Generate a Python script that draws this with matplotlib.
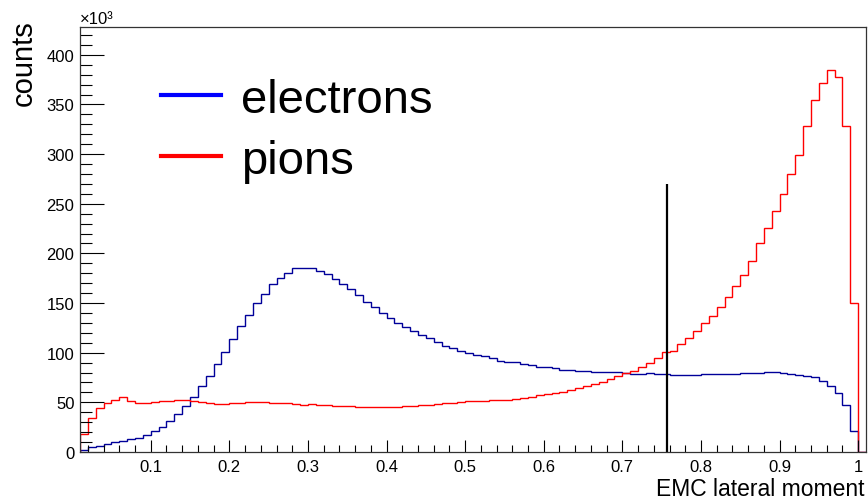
import numpy as np
import matplotlib
matplotlib.use('Agg')
import matplotlib.pyplot as plt
from matplotlib.lines import Line2D
from matplotlib.ticker import MultipleLocator

plt.rcParams['font.family'] = ['Liberation Sans', 'DejaVu Sans']

# bin edges of the histogram: 0.01 .. 1.01 in steps of 0.01
edges = np.round(np.arange(0.01, 1.0101, 0.01), 2)

# counts per bin, in units of 10^3
electrons = [2.0, 4.7, 6.4, 8.0, 9.7, 11.0, 12.7, 14.4, 17.0, 21.0,
             25.5, 31.6, 38.3, 46.7, 55.7, 66.2, 76.9, 88.7, 101.0, 113.5,
             127.0, 138.0, 150.4, 159.2, 169.0, 175.3, 180.4, 185.4, 185.4, 185.4,
             182.7, 179.7, 174.3, 169.5, 164.2, 158.2, 151.4, 145.8, 140.0, 135.0,
             130.0, 126.0, 122.0, 117.9, 114.5, 110.5, 107.1, 104.5, 102.0, 99.7,
             97.7, 96.8, 94.4, 92.0, 91.0, 90.3, 88.3, 87.3, 86.0, 85.3,
             84.3, 82.6, 82.6, 81.6, 81.6, 80.9, 80.3, 80.3, 80.3, 79.6,
             78.9, 78.9, 79.6, 78.6, 78.6, 77.9, 77.9, 77.9, 77.9, 78.6,
             78.6, 78.6, 78.6, 78.6, 79.3, 79.3, 80.0, 80.3, 80.3, 79.6,
             78.6, 77.9, 76.9, 75.2, 71.2, 66.8, 59.4, 47.7, 21.5, 0.0]

pions = [18.1, 34.3, 44.0, 49.0, 52.7, 55.1, 51.0, 49.0, 49.0, 50.4,
         51.0, 51.7, 52.4, 52.4, 51.7, 50.4, 49.4, 48.7, 48.7, 49.7,
         49.7, 50.7, 50.7, 50.7, 49.7, 49.7, 49.7, 48.7, 47.7, 48.7,
         47.7, 47.7, 46.7, 46.7, 46.5, 45.7, 45.7, 45.7, 45.7, 45.7,
         45.7, 46.2, 46.7, 47.2, 47.7, 48.2, 49.0, 49.7, 50.5, 51.0,
         51.2, 51.5, 51.9, 52.2, 52.4, 53.7, 54.7, 55.7, 57.1, 58.1,
         59.8, 60.8, 62.5, 64.2, 66.2, 68.5, 70.8, 73.6, 76.9, 79.6,
         81.9, 85.3, 89.7, 94.4, 100.4, 101.8, 108.5, 114.6, 122.3, 129.7,
         136.7, 145.8, 156.2, 166.9, 178.3, 192.8, 210.3, 226.0, 243.1, 260.0,
         279.8, 299.6, 328.5, 354.3, 371.5, 384.2, 377.5, 328.5, 149.8, 0.0]

cut_x = 0.757
cut_top = 270.0

W, H = 868, 502
fig = plt.figure(figsize=(W / 100, H / 100), dpi=100)
ax = fig.add_axes([80 / W, 49 / H, 786 / W, 425 / H])

ax.stairs(electrons, edges, color='#000099', lw=1.0)
ax.stairs(pions, edges, color='#ff0000', lw=1.0)
ax.vlines(cut_x, 0, cut_top, color='black', lw=1.6)

ax.set_xlim(0.01, 1.01)
ax.set_ylim(0, 428)
ax.xaxis.set_major_locator(MultipleLocator(0.1))
ax.xaxis.set_minor_locator(MultipleLocator(0.02))
ax.yaxis.set_major_locator(MultipleLocator(50))
ax.yaxis.set_minor_locator(MultipleLocator(10))
ax.xaxis.set_major_formatter(lambda v, p: '%g' % round(v, 2))

ax.tick_params(axis='x', which='major', direction='in', length=8.5, width=0.8, labelsize=12, pad=5)
ax.tick_params(axis='x', which='minor', direction='in', length=5, width=0.8)
ax.tick_params(axis='y', which='major', direction='in', length=17, width=0.8, labelsize=12, pad=4)
ax.tick_params(axis='y', which='minor', direction='in', length=8.5, width=0.8)
for s in ax.spines.values():
    s.set_color('#333333')
    s.set_linewidth(0.9)

handles = [Line2D([], [], color='#0000ff', lw=3),
           Line2D([], [], color='#ff0000', lw=3)]
ax.legend(handles, ['electrons', 'pions'], loc='upper left',
          bbox_to_anchor=(161 / W, 1 - 79 / H), bbox_transform=fig.transFigure,
          frameon=False, fontsize=34, handlelength=1.27, handletextpad=0.42,
          labelspacing=0.35, borderpad=0, borderaxespad=0)

fig.text(80 / W, 1 - 24 / H, '×10³', fontsize=12, ha='left', va='baseline')
fig.text(24 / W, 1 - 20 / H, 'counts', fontsize=21, rotation=90, ha='center', va='top')
fig.text(865 / W, 1 - 496 / H, 'EMC lateral moment', fontsize=16.5, ha='right', va='baseline')

fig.savefig('out.png', dpi=100)
